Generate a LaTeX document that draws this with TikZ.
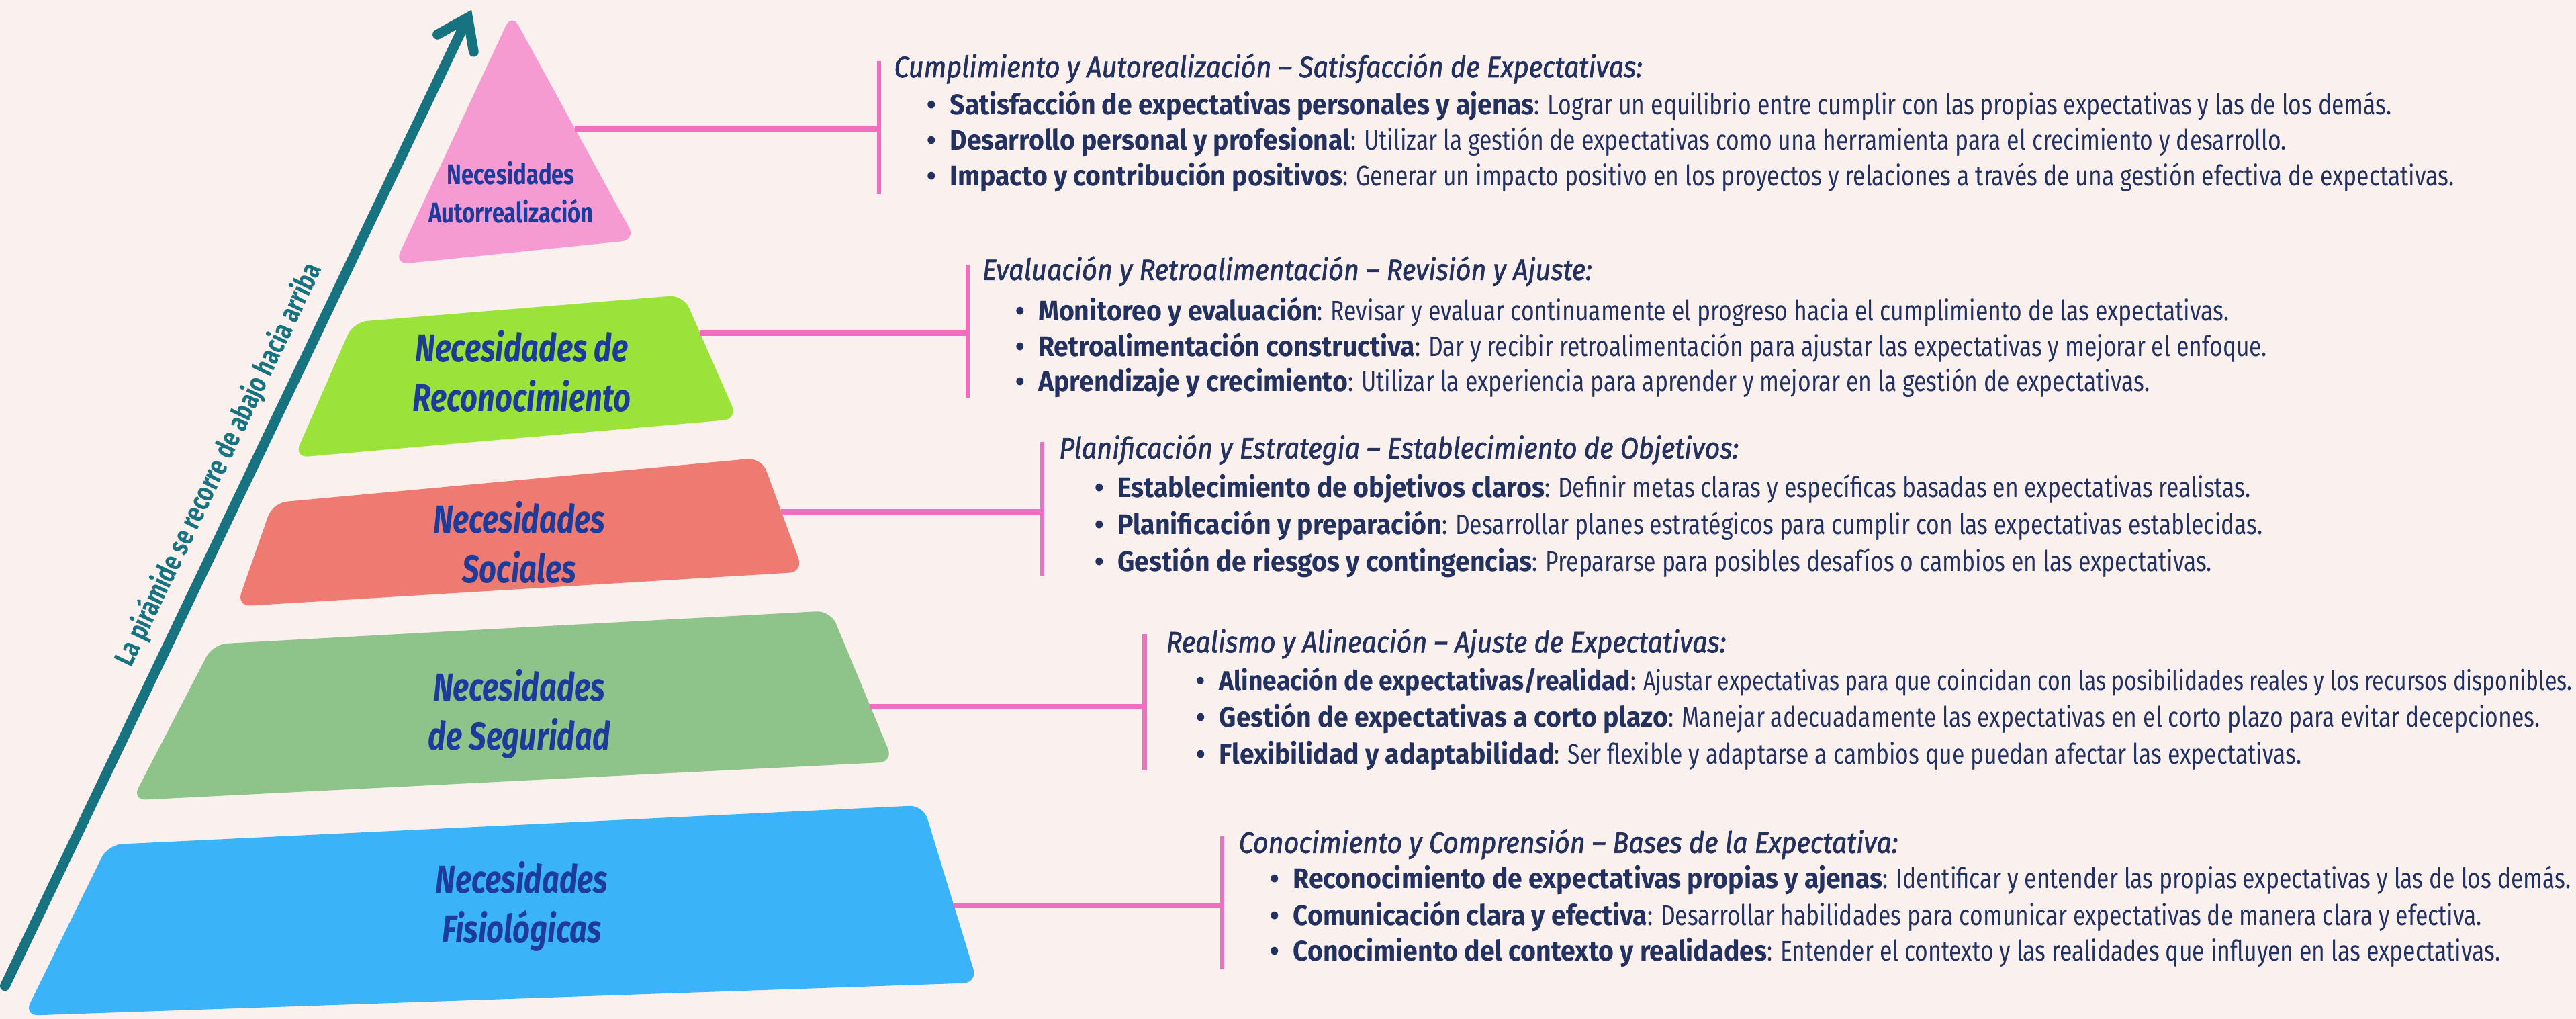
\documentclass[tikz,border=0pt]{standalone}
\usepackage{fontspec}
\setmainfont{Fira Sans}[FakeStretch=0.80, BoldFeatures={FakeStretch=0.93}]
\newfontfamily\headfont{Fira Sans}[FakeStretch=0.90, FakeBold=1.5]
\newfontfamily\lblfont{Fira Sans}[FakeStretch=0.78]
\usetikzlibrary{arrows.meta}
\definecolor{bgpink}{HTML}{FAF0EE}
\definecolor{teal}{HTML}{17737F}
\definecolor{navy}{HTML}{22315F}
\definecolor{lblue}{HTML}{1D3B9B}
\definecolor{conpink}{HTML}{F06EC0}
\definecolor{P0}{HTML}{F59BD1}
\definecolor{P1}{HTML}{9BE33A}
\definecolor{P2}{HTML}{EE7A72}
\definecolor{P3}{HTML}{8EC48A}
\definecolor{P4}{HTML}{3BB3F9}

\newcommand{\pit}[2]{\makebox[9.7pt][l]{\textbf{\textbullet}}\textbf{#1}: #2}

\tikzset{
  head/.style={anchor=base west, inner sep=0, text=navy,
    font=\headfont\itshape\fontsize{12.5}{14}\selectfont},
  bul/.style={anchor=base west, inner sep=0, text=navy,
    font=\fontsize{12}{14}\selectfont},
  lbl/.style={align=center, inner sep=0, text=lblue,
    font=\lblfont\bfseries\itshape\fontsize{16.5}{21}\selectfont},
  conn/.style={conpink, line width=2.2pt},
  brk/.style={conpink, line width=1.8pt},
}

\begin{document}
\begin{tikzpicture}[x=0.02446cm, y=-0.02446cm]

    %% Background
    \fill[bgpink] (0,0) rectangle (1568,620);
    \useasboundingbox (0,0) rectangle (1568,620);

    %% --- Pyramid levels ---
    \fill[P0, rounded corners=6pt] (311.5,8) -- (387,146) -- (240,161) -- cycle;
    \fill[P1, rounded corners=6pt] (215,196) -- (416,179.5) -- (449,255) -- (179,278.5) -- cycle;
    \fill[P2, rounded corners=6pt] (166,306) -- (463.6,278.5) -- (489,348) -- (144,369) -- cycle;
    \fill[P3, rounded corners=6pt] (129.6,392) -- (505.6,371.6) -- (543.8,463.6) -- (80.3,487) -- cycle;
    \fill[P4, rounded corners=6pt] (65.7,514) -- (562,490) -- (595,598) -- (14.6,618) -- cycle;

    %% Level labels
    \node[lbl, font=\lblfont\bfseries\fontsize{12}{16}\selectfont] (lauto) at (311,117) {Necesidades\\Autorrealización};
    \node[lbl] (lreco) at (317.6,226) {Necesidades de\\Reconocimiento};
    \node[lbl] (lsoc) at (316,330) {Necesidades\\Sociales};
    \node[lbl] (lseg) at (316,434.5) {Necesidades\\de Seguridad};
    \node[lbl] (lfis) at (317.6,551.5) {Necesidades\\Fisiológicas};

    %% --- Arrow along the pyramid ---
    \coordinate (A0) at (3,600);
    \coordinate (A1) at (287,6);
    \draw[teal, line width=4.2pt, line cap=round,
          -{Straight Barb[length=12pt, width=17pt, line cap=round]}]
        (A0) -- (A1)
        node[pos=0.52, sloped, above=5pt, inner sep=0, text=teal,
             font=\lblfont\bfseries\fontsize{12}{14}\selectfont] (ltxt)
        {La pirámide se recorre de abajo hacia arriba};

    %% --- Connectors and brackets ---
    \coordinate (e1) at (350,78.4);   \coordinate (k1) at (535,78.4);
    \coordinate (e2) at (426,202.8);  \coordinate (k2) at (589,202.8);
    \coordinate (e3) at (475.5,311.5);\coordinate (k3) at (634.3,311.5);
    \coordinate (e4) at (529.5,430);  \coordinate (k4) at (696.7,430);
    \coordinate (e5) at (580.6,551);  \coordinate (k5) at (744,551);

    \draw[conn] (e1) -- (k1);
    \draw[conn] (e2) -- (k2);
    \draw[conn] (e3) -- (k3);
    \draw[conn] (e4) -- (k4);
    \draw[conn] (e5) -- (k5);

    \draw[brk] (535,37) -- (535,118);
    \draw[brk] (589,161) -- (589,242);
    \draw[brk] (634.3,269) -- (634.3,350.4);
    \draw[brk] (696.7,386) -- (696.7,469);
    \draw[brk] (744,509) -- (744,590);

    %% --- Text blocks ---
    %% Autorrealización
    \node[head] (h1) at (544,47) {Cumplimiento y Autorealización – Satisfacción de Expectativas:};
    \node[bul] (t1a) at (564,69.5) {\pit{Satisfacción de expectativas personales y ajenas}{Lograr un equilibrio entre cumplir con las propias expectativas y las de los demás.}};
    \node[bul] (t1b) at (564,91.2) {\pit{Desarrollo personal y profesional}{Utilizar la gestión de expectativas como una herramienta para el crecimiento y desarrollo.}};
    \node[bul] (t1c) at (564,113) {\pit{Impacto y contribución positivos}{Generar un impacto positivo en los proyectos y relaciones a través de una gestión efectiva de expectativas.}};

    %% Reconocimiento
    \node[head] (h2) at (597.7,170.4) {Evaluación y Retroalimentación – Revisión y Ajuste:};
    \node[bul] (t2a) at (617.8,195) {\pit{Monitoreo y evaluación}{Revisar y evaluar continuamente el progreso hacia el cumplimiento de las expectativas.}};
    \node[bul] (t2b) at (617.8,216.7) {\pit{Retroalimentación constructiva}{Dar y recibir retroalimentación para ajustar las expectativas y mejorar el enfoque.}};
    \node[bul] (t2c) at (617.8,238.3) {\pit{Aprendizaje y crecimiento}{Utilizar la experiencia para aprender y mejorar en la gestión de expectativas.}};

    %% Sociales
    \node[head] (h3) at (644.4,279) {Planificación y Estrategia – Establecimiento de Objetivos:};
    \node[bul] (t3a) at (666,302.5) {\pit{Establecimiento de objetivos claros}{Definir metas claras y específicas basadas en expectativas realistas.}};
    \node[bul] (t3b) at (666,325) {\pit{Planificación y preparación}{Desarrollar planes estratégicos para cumplir con las expectativas establecidas.}};
    \node[bul] (t3c) at (666,347.5) {\pit{Gestión de riesgos y contingencias}{Prepararse para posibles desafíos o cambios en las expectativas.}};

    %% Seguridad
    \node[head] (h4) at (709.6,397) {Realismo y Alineación – Ajuste de Expectativas:};
    \node[bul, font=\fontsize{11.4}{14}\selectfont] (t4a) at (728,419.8) {\pit{Alineación de expectativas/realidad}{Ajustar expectativas para que coincidan con las posibilidades reales y los recursos disponibles.}};
    \node[bul] (t4b) at (728,442.3) {\pit{Gestión de expectativas a corto plazo}{Manejar adecuadamente las expectativas en el corto plazo para evitar decepciones.}};
    \node[bul] (t4c) at (728,465) {\pit{Flexibilidad y adaptabilidad}{Ser flexible y adaptarse a cambios que puedan afectar las expectativas.}};

    %% Fisiológicas
    \node[head] (h5) at (753.7,519) {Conocimiento y Comprensión – Bases de la Expectativa:};
    \node[bul] (t5a) at (772.8,540.5) {\pit{Reconocimiento de expectativas propias y ajenas}{Identificar y entender las propias expectativas y las de los demás.}};
    \node[bul] (t5b) at (772.8,563) {\pit{Comunicación clara y efectiva}{Desarrollar habilidades para comunicar expectativas de manera clara y efectiva.}};
    \node[bul] (t5c) at (772.8,584.6) {\pit{Conocimiento del contexto y realidades}{Entender el contexto y las realidades que influyen en las expectativas.}};

\end{tikzpicture}
\end{document}
